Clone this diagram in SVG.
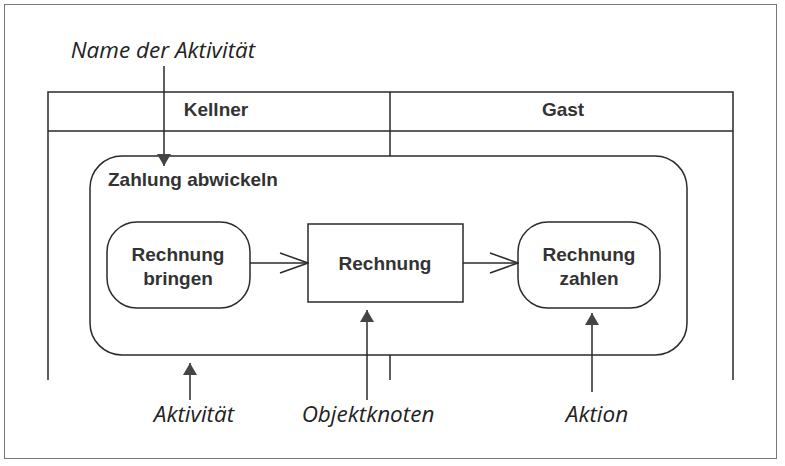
<svg xmlns="http://www.w3.org/2000/svg" width="785" height="466" viewBox="0 0 785 466">
<defs>
<style>
.ln{stroke:#2a2a2a;stroke-width:1.5;fill:none}
.nd{stroke:#2a2a2a;stroke-width:1.5;fill:#fff}
.b{font-family:"Liberation Sans",Arial,sans-serif;font-weight:bold;font-size:19px;fill:#333;text-anchor:middle}
.i{font-family:"Open Sans","Noto Sans",sans-serif;font-style:italic;font-size:22.5px;fill:#222;text-anchor:middle}
</style>
<marker id="fill" viewBox="0 0 12 16" refX="12" refY="8" markerWidth="12" markerHeight="16" markerUnits="userSpaceOnUse" orient="auto">
<path d="M0,1 L12,8 L0,15 Z" fill="#444"/>
</marker>
<marker id="open" viewBox="0 0 30 22" refX="29" refY="11" markerWidth="30" markerHeight="22" markerUnits="userSpaceOnUse" orient="auto">
<path d="M1,1 L29,11 L1,21" fill="none" stroke="#2a2a2a" stroke-width="1.5"/>
</marker>
</defs>
<rect x="0" y="0" width="785" height="466" fill="#fff"/>
<rect x="4.5" y="4.5" width="772" height="454" fill="none" stroke="#777" stroke-width="1"/>
<g id="swimlanes">
<path class="ln" d="M48,380 V92 H733 V380 M48,131 H733 M390,92 V380"/>
<text class="b" x="216" y="116">Kellner</text>
<text class="b" x="563" y="116">Gast</text>
</g>
<g id="activity">
<rect class="nd" x="90" y="156" width="597" height="199" rx="32" ry="32"/>
<text class="b" x="108" y="186" style="text-anchor:start">Zahlung abwickeln</text>
</g>
<g id="bringen">
<rect class="nd" x="107" y="222" width="143" height="86" rx="30" ry="30"/>
<text class="b" x="178" y="261">Rechnung</text>
<text class="b" x="178" y="285">bringen</text>
</g>
<g id="rechnung">
<rect class="nd" x="308" y="224" width="155" height="78"/>
<text class="b" x="385" y="270">Rechnung</text>
</g>
<g id="zahlen">
<rect class="nd" x="518" y="222" width="142" height="86" rx="30" ry="30"/>
<text class="b" x="589" y="261">Rechnung</text>
<text class="b" x="589" y="285">zahlen</text>
</g>
<g id="connectors">
<path class="ln" d="M250,263 H308" marker-end="url(#open)"/>
<path class="ln" d="M463,263 H518" marker-end="url(#open)"/>
</g>
<g id="annotations">
<text class="i" x="163" y="58">Name der Aktivität</text>
<path class="ln" d="M164,66 V166" marker-end="url(#fill)"/>
<text class="i" x="194" y="422">Aktivität</text>
<path class="ln" d="M190,400 V363" marker-end="url(#fill)"/>
<text class="i" x="368" y="422">Objektknoten</text>
<path class="ln" d="M367,400 V310" marker-end="url(#fill)"/>
<text class="i" x="597" y="422">Aktion</text>
<path class="ln" d="M592,392 V313" marker-end="url(#fill)"/>
</g>
</svg>
